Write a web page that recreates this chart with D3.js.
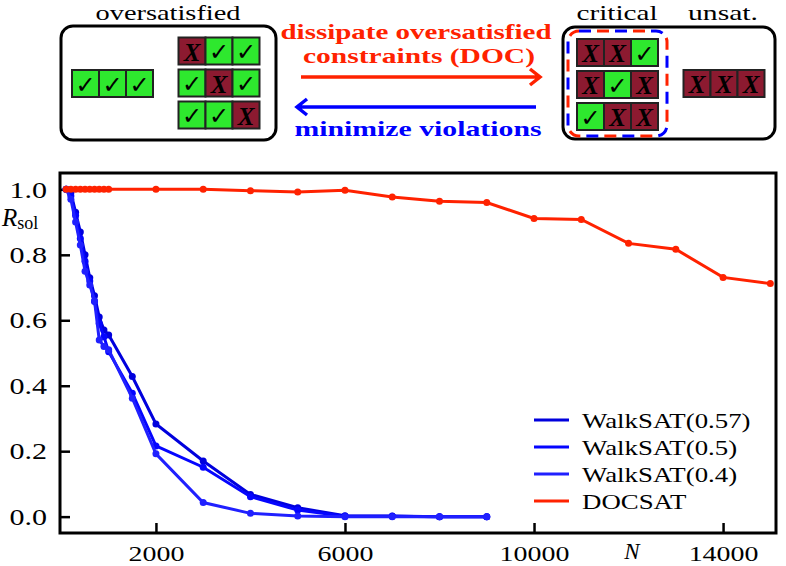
<!DOCTYPE html>
<html>
<head>
<meta charset="utf-8">
<script src="https://cdn.jsdelivr.net/npm/d3@7"></script>
<style>
  body { margin: 0; background: #fff; }
  svg { display: block; font-family: "Liberation Serif", serif; }
</style>
</head>
<body>
<div id="container"></div>
<script>
// sizes of the problem, one list for walksat and one for docsat
const nWalk = [100, 200, 300, 400, 500, 600, 700, 800, 900, 1000, 1500, 2000, 3000, 4000, 5000, 6000, 7000, 8000, 9000];
const nDoc = [100, 200, 300, 400, 500, 600, 700, 800, 900, 1000, 2000, 3000, 4000, 5000, 6000, 7000, 8000, 9000, 10000, 11000, 12000, 13000, 14000, 15000];

// fraction of solved instances
const walk057 = [1.0, 0.99, 0.93, 0.87, 0.80, 0.73, 0.675, 0.61, 0.57, 0.555, 0.428, 0.283, 0.170, 0.068, 0.027, 0.003, 0.002, 0.0, 0.0];
const walk05 = [1.0, 0.98, 0.92, 0.85, 0.78, 0.72, 0.657, 0.59, 0.55, 0.504, 0.377, 0.216, 0.151, 0.061, 0.020, 0.001, 0.001, 0.0, 0.0];
const walk04 = [1.0, 0.97, 0.90, 0.83, 0.75, 0.708, 0.66, 0.54, 0.52, 0.51, 0.362, 0.192, 0.043, 0.010, 0.002, 0.0, 0.0, 0.0, 0.0];
const docsat = [1.0, 1.0, 1.0, 1.0, 1.0, 1.0, 1.0, 1.0, 1.0, 1.0, 1.0, 1.0, 0.996, 0.992, 0.997, 0.977, 0.964, 0.960, 0.911, 0.908, 0.835, 0.817, 0.731, 0.712];

const seriesNames = ["WalkSAT(0.57)", "WalkSAT(0.5)", "WalkSAT(0.4)", "DOCSAT"];
const xTicks = [2000, 6000, 10000, 14000];
const yTicks = [0, 0.2, 0.4, 0.6, 0.8, 1.0];

// the little clause boxes, 1 = satisfied, 0 = violated
const singleRow = [1, 1, 1];
const overRows = [[0, 1, 1], [1, 0, 1], [1, 1, 0]];
const criticalRows = [[0, 0, 1], [0, 1, 0], [1, 0, 0]];
const unsatRow = [0, 0, 0];

const width = 786;
const height = 566;
const plot = {left: 60, right: 776, top: 173, bottom: 533};

const green = "#2ee82e";
const maroon = "#8c1a30";
const red = "#ff2200";
const blue = "#0000ff";

const svg = d3.select("#container")
    .append("svg")
    .attr("width", width)
    .attr("height", height);

//computer modern is wider than the serif we have, so stretch the text a bit
function stretch(sel, k) {
    sel.each(function() {
        const w = this.getComputedTextLength();
        d3.select(this)
            .attr("textLength", w * k)
            .attr("lengthAdjust", "spacingAndGlyphs");
    });
}

//same thing but to a known width
function fitTo(sel, w) {
    sel.attr("textLength", w).attr("lengthAdjust", "spacingAndGlyphs");
}

//draws one row of three cells
function cellRow(values, x, y) {
    const size = 27;
    const g = svg.append("g").attr("transform", `translate(${x},${y})`);
    values.forEach((v, i) => {
        g.append("rect")
            .attr("x", i * size)
            .attr("y", 0)
            .attr("width", size)
            .attr("height", size)
            .attr("fill", v ? green : maroon)
            .attr("stroke", "#222")
            .attr("stroke-width", 2);
        g.append("text")
            .attr("x", i * size + size / 2)
            .attr("y", size / 2 + 1)
            .attr("text-anchor", "middle")
            .attr("dominant-baseline", "central")
            .style("font-family", v ? "DejaVu Sans" : "Liberation Serif")
            .style("font-style", v ? "normal" : "italic")
            .style("font-weight", "bold")
            .style("font-size", v ? "24px" : "25px")
            .attr("fill", "#000")
            .text(v ? "\u2713" : "X");
    });
}

// ---- top diagram ----
svg.append("rect")
    .attr("x", 61).attr("y", 26)
    .attr("width", 215).attr("height", 114)
    .attr("rx", 12)
    .attr("fill", "none")
    .attr("stroke", "#000")
    .attr("stroke-width", 3);

svg.append("rect")
    .attr("x", 563).attr("y", 27)
    .attr("width", 212).attr("height", 112)
    .attr("rx", 12)
    .attr("fill", "none")
    .attr("stroke", "#000")
    .attr("stroke-width", 3);

cellRow(singleRow, 72, 70);
overRows.forEach((row, i) => cellRow(row, 178.5, 37.5 + i * 32));
criticalRows.forEach((row, i) => cellRow(row, 577, 39 + i * 32));
cellRow(unsatRow, 683.5, 70);

//dashed box, blue and red dashes taking turns
[[blue, 0], [red, 18]].forEach(([c, off]) => {
    svg.append("rect")
        .attr("x", 568).attr("y", 31)
        .attr("width", 99).attr("height", 105)
        .attr("rx", 11)
        .attr("fill", "none")
        .attr("stroke", c)
        .attr("stroke-width", 3)
        .attr("stroke-dasharray", "12 24")
        .attr("stroke-dashoffset", off);
});

svg.append("text").attr("x", 168).attr("y", 20)
    .attr("text-anchor", "middle").style("font-size", "21px").text("oversatisfied")
    .call(fitTo, 145);
svg.append("text").attr("x", 617).attr("y", 20)
    .attr("text-anchor", "middle").style("font-size", "21px").text("critical")
    .call(fitTo, 81);
svg.append("text").attr("x", 723).attr("y", 20)
    .attr("text-anchor", "middle").style("font-size", "21px").text("unsat.")
    .call(fitTo, 70);

svg.append("text").attr("x", 416).attr("y", 39)
    .attr("text-anchor", "middle").style("font-size", "22px").style("font-weight", "bold")
    .attr("fill", red).text("dissipate oversatisfied")
    .call(fitTo, 271);
svg.append("text").attr("x", 419).attr("y", 63)
    .attr("text-anchor", "middle").style("font-size", "22px").style("font-weight", "bold")
    .attr("fill", red).text("constraints (DOC)")
    .call(fitTo, 232);
svg.append("text").attr("x", 418).attr("y", 136)
    .attr("text-anchor", "middle").style("font-size", "22px").style("font-weight", "bold")
    .attr("fill", blue).text("minimize violations")
    .call(fitTo, 247);

//arrows
svg.append("path")
    .attr("d", "M301,77 L539,77 M530,69 L540,77 L530,85")
    .attr("fill", "none").attr("stroke", red).attr("stroke-width", 3.5);
svg.append("path")
    .attr("d", "M536,107 L298,107 M307,99 L297,107 L307,115")
    .attr("fill", "none").attr("stroke", blue).attr("stroke-width", 3.5);

// ---- main plot ----
const xScale = d3.scaleLinear()
    .domain([-30, 15120])
    .range([plot.left, plot.right]);

const yScale = d3.scaleLinear()
    .domain([-0.05, 1.05])
    .range([plot.bottom, plot.top]);

//inward ticks
svg.append("g")
    .attr("transform", `translate(0,${plot.bottom})`)
    .call(d3.axisBottom(xScale).tickValues(xTicks).tickFormat(d3.format("d"))
        .tickSizeInner(-10).tickSizeOuter(0).tickPadding(12))
    .call(g => g.select(".domain").remove())
    .call(g => g.selectAll("line").attr("stroke", "#000").attr("stroke-width", 2.5))
    .call(g => g.selectAll("text").attr("fill", "#000")
        .style("font-family", "Liberation Serif").style("font-size", "22px")
        .call(stretch, 1.27));

svg.append("g")
    .attr("transform", `translate(${plot.left},0)`)
    .call(d3.axisLeft(yScale).tickValues(yTicks).tickFormat(d3.format(".1f"))
        .tickSizeInner(-10).tickSizeOuter(0).tickPadding(13))
    .call(g => g.select(".domain").remove())
    .call(g => g.selectAll("line").attr("stroke", "#000").attr("stroke-width", 2.5))
    .call(g => g.selectAll("text").attr("fill", "#000")
        .style("font-family", "Liberation Serif").style("font-size", "24px")
        .call(stretch, 1.25));

//frame
svg.append("rect")
    .attr("x", plot.left)
    .attr("y", plot.top)
    .attr("width", plot.right - plot.left)
    .attr("height", plot.bottom - plot.top)
    .attr("fill", "none")
    .attr("stroke", "#000")
    .attr("stroke-width", 3);

const series = [
    {name: seriesNames[0], n: nWalk, v: walk057, color: "#0000dd"},
    {name: seriesNames[1], n: nWalk, v: walk05, color: "#0505ff"},
    {name: seriesNames[2], n: nWalk, v: walk04, color: "#2020ff"},
    {name: seriesNames[3], n: nDoc, v: docsat, color: red}
];

const line = d3.line()
    .x(d => xScale(d[0]))
    .y(d => yScale(d[1]));

series.forEach(s => {
    const pts = s.n.map((n, i) => [n, s.v[i]]);
    svg.append("path")
        .datum(pts)
        .attr("d", line)
        .attr("fill", "none")
        .attr("stroke", s.color)
        .attr("stroke-width", 3);
    svg.append("g")
        .selectAll("circle")
        .data(pts)
        .join("circle")
        .attr("cx", d => xScale(d[0]))
        .attr("cy", d => yScale(d[1]))
        .attr("r", 3.5)
        .attr("fill", s.color);
});

//axis labels
const rLabel = svg.append("text")
    .attr("x", 2).attr("y", 226)
    .style("font-size", "25px");
rLabel.append("tspan").style("font-style", "italic").text("R");
rLabel.append("tspan").attr("dy", 3).style("font-size", "18px").text("sol");

svg.append("text")
    .attr("x", 632).attr("y", 559)
    .attr("text-anchor", "middle")
    .style("font-size", "23px")
    .style("font-style", "italic")
    .text("N");

//legend
series.forEach((s, i) => {
    const ly = 420 + i * 27;
    svg.append("line")
        .attr("x1", 534).attr("x2", 569)
        .attr("y1", ly).attr("y2", ly)
        .attr("stroke", s.color)
        .attr("stroke-width", 3);
    svg.append("text")
        .attr("x", 582).attr("y", ly)
        .attr("dominant-baseline", "central")
        .style("font-size", "22px")
        .text(s.name)
        .call(stretch, 1.22);
});
</script>
</body>
</html>
